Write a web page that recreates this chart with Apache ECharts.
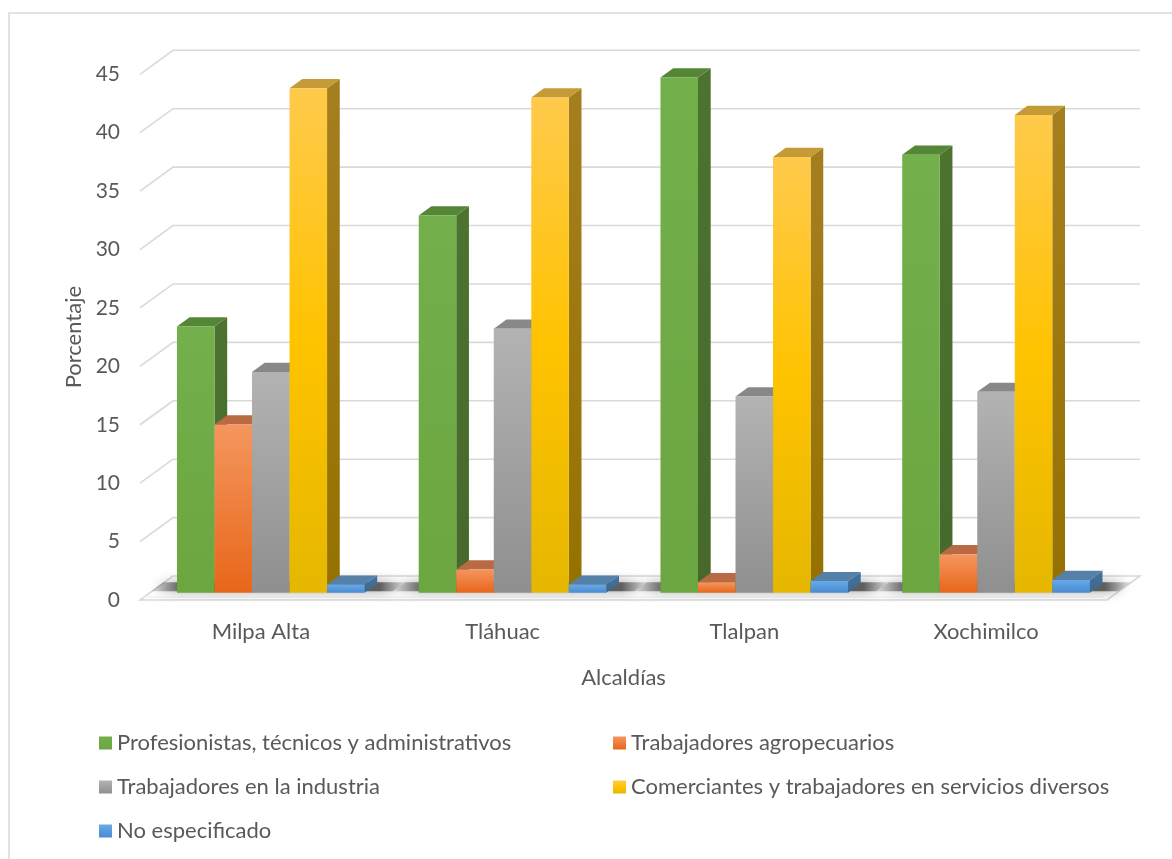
<!DOCTYPE html>
<html>
<head>
<meta charset="utf-8">
<script src="https://cdn.jsdelivr.net/npm/echarts@6/dist/echarts.min.js"></script>
<style>
  html, body { margin: 0; padding: 0; background: #ffffff; }
  #chart { width: 1172px; height: 859px; }
</style>
</head>
<body>
<div id="chart"></div>
<script>
// Ocupación de la población por alcaldía (%)
const categories = ['Milpa Alta', 'Tláhuac', 'Tlalpan', 'Xochimilco'];
const yTicks = [0, 5, 10, 15, 20, 25, 30, 35, 40, 45];

const seriesNames = [
  'Profesionistas, técnicos y administrativos',
  'Trabajadores agropecuarios',
  'Trabajadores en la industria',
  'Comerciantes y trabajadores en servicios diversos',
  'No especificado'
];
const profesionistas = [22.8, 32.3, 44.1, 37.5];
const agropecuarios  = [14.4, 2.0, 0.9, 3.3];
const industria      = [18.9, 22.6, 16.8, 17.2];
const comerciantes   = [43.2, 42.4, 37.3, 40.9];
const noEspecificado = [0.7, 0.7, 1.0, 1.1];
const seriesValues = [profesionistas, agropecuarios, industria, comerciantes, noEspecificado];

// face colours: front gradient stops, side gradient, top
const faces = [
  { front: [[0, '#73AF4A'], [1, '#6BA641']], side: ['#4C7330', '#46692B'], top: '#558636' },
  { front: [[0, '#F4965E'], [1, '#E8661A']], side: ['#B45A22', '#A84F17'], top: '#B96A42' },
  { front: [[0, '#B3B3B3'], [1, '#8F8F8F']], side: ['#727272', '#646464'], top: '#888888' },
  { front: [[0, '#FFCA4C'], [0.5, '#FFC300'], [1, '#E5B700']], side: ['#A57F1F', '#957100'], top: '#C49B36' },
  { front: [[0, '#66AAE8'], [1, '#4A8BD0']], side: ['#44739E', '#3C6890'], top: '#5580A8' }
];

// oblique projection: full floor depth in screen pixels
const DEPTH = [33, -24];
const BAR_D0 = 0.30;   // bar front plane (fraction of floor depth)
const BAR_D1 = 0.685;  // bar back plane
const GROUP_FILL = 0.776; // share of a category slot covered by the five bars
const GRID_COLOR = '#D9D9D9';
const TEXT_COLOR = '#595959';
const FONT = 'Lato';

function grad(stops) {
  return { type: 'linear', x: 0, y: 0, x2: 0, y2: 1,
    colorStops: stops.map(s => ({ offset: s[0], color: s[1] })) };
}

function plotEdges(api, v) {
  const catW = api.size([1, 0])[0];
  const left = api.coord([0, v])[0] - catW / 2;
  const right = api.coord([categories.length - 1, v])[0] + catW / 2;
  const y = api.coord([0, v])[1];
  return { left, right, y, catW };
}

// back wall / side wall gridlines
function renderGridLine(params, api) {
  const v = api.value(1);
  const e = plotEdges(api, v);
  const children = [];
  if (v === 0) {
    // floor slab
    children.push({
      type: 'polygon',
      shape: { points: [[e.left, e.y], [e.right, e.y], [e.right + DEPTH[0], e.y + DEPTH[1]], [e.left + DEPTH[0], e.y + DEPTH[1]]] },
      style: { fill: '#FFFFFF', stroke: GRID_COLOR, lineWidth: 1.6 }
    });
    children.push({
      type: 'polyline',
      shape: { points: [[e.left + 3, e.y - 3], [e.right - 3, e.y - 3]] },
      style: { fill: null, stroke: '#EBEBEB', lineWidth: 1.2 }
    });
  } else {
    children.push({
      type: 'polyline',
      shape: { points: [[e.left, e.y], [e.left + DEPTH[0], e.y + DEPTH[1]], [e.right + DEPTH[0], e.y + DEPTH[1]]] },
      style: { fill: null, stroke: GRID_COLOR, lineWidth: 1.6 }
    });
  }
  return { type: 'group', children };
}

// soft shadow cast on the floor by each group of bars
function renderShadow(params, api) {
  const i = api.value(0);
  const base = api.coord([i, 0]);
  const catW = api.size([1, 0])[0];
  const groupW = catW * GROUP_FILL;
  const x0 = base[0] - groupW / 2, x1 = base[0] + groupW / 2;
  const da = 0.36, db = 0.74;
  const pts = [
    [x0 - 28 + DEPTH[0] * da, base[1] + DEPTH[1] * da],
    [x1 + 26 + DEPTH[0] * da, base[1] + DEPTH[1] * da],
    [x1 + 26 + DEPTH[0] * db, base[1] + DEPTH[1] * db],
    [x0 - 28 + DEPTH[0] * db, base[1] + DEPTH[1] * db]
  ];
  return {
    type: 'polygon',
    shape: { points: pts },
    style: {
      fill: { type: 'linear', x: 0, y: 0, x2: 1, y2: 0, colorStops: [
        { offset: 0, color: 'rgba(90,90,90,0.15)' },
        { offset: 0.12, color: 'rgba(60,60,60,0.75)' },
        { offset: 0.9, color: 'rgba(60,60,60,0.75)' },
        { offset: 1, color: 'rgba(90,90,90,0.15)' }
      ] },
      shadowBlur: 12, shadowColor: 'rgba(0,0,0,0.55)'
    }
  };
}

function makeBarRenderer(s) {
  return function (params, api) {
    const i = api.value(0);
    const v = api.value(1);
    const base = api.coord([i, 0]);
    const top = api.coord([i, v]);
    const catW = api.size([1, 0])[0];
    const barW = catW * GROUP_FILL / seriesNames.length;
    const fx = base[0] - barW * seriesNames.length / 2 + s * barW + DEPTH[0] * BAR_D0;
    const fy0 = base[1] + DEPTH[1] * BAR_D0;
    const fy1 = top[1] + DEPTH[1] * BAR_D0;
    const bx = DEPTH[0] * (BAR_D1 - BAR_D0);
    const by = DEPTH[1] * (BAR_D1 - BAR_D0);
    const f = faces[s];
    return {
      type: 'group',
      children: [
        { type: 'polygon',
          shape: { points: [[fx + barW, fy1], [fx + barW + bx, fy1 + by], [fx + barW + bx, fy0 + by], [fx + barW, fy0]] },
          style: { fill: grad([[0, f.side[0]], [1, f.side[1]]]) } },
        { type: 'polygon',
          shape: { points: [[fx, fy1], [fx + bx, fy1 + by], [fx + barW + bx, fy1 + by], [fx + barW, fy1]] },
          style: { fill: f.top } },
        { type: 'rect',
          shape: { x: fx, y: fy1, width: barW, height: fy0 - fy1 },
          style: { fill: grad(f.front) } }
      ]
    };
  };
}

const series = [
  { type: 'custom', name: '_grid', silent: true, z: 1,
    renderItem: renderGridLine, data: yTicks.map(v => [0, v]) },
  { type: 'custom', name: '_shadow', silent: true, z: 2,
    renderItem: renderShadow, data: categories.map((c, i) => [i, 0]) }
];
seriesNames.forEach((name, s) => {
  series.push({
    type: 'custom', name, z: 3,
    itemStyle: { color: grad(faces[s].front) },
    renderItem: makeBarRenderer(s),
    data: seriesValues[s].map((v, i) => [i, v])
  });
});

const legendText = { color: TEXT_COLOR, fontSize: 22, fontFamily: FONT, lineHeight: 22 };

const option = {
  animation: false,
  backgroundColor: '#FFFFFF',
  graphic: [{
    type: 'rect', silent: true, z: -10,
    shape: { x: 9, y: 13, width: 1200, height: 900 },
    style: { fill: 'none', stroke: GRID_COLOR, lineWidth: 1.5 }
  }],
  grid: { left: 140, right: 65, top: 74.3, bottom: 259 },
  xAxis: {
    type: 'category', data: categories,
    name: 'Alcaldías', nameLocation: 'middle', nameGap: 67,
    nameTextStyle: { color: TEXT_COLOR, fontSize: 22, fontFamily: FONT },
    axisLine: { show: false }, axisTick: { show: false },
    axisLabel: { color: TEXT_COLOR, fontSize: 22, fontFamily: FONT, margin: 21 },
    splitLine: { show: false }
  },
  yAxis: {
    type: 'value', min: yTicks[0], max: yTicks[yTicks.length - 1], interval: yTicks[1] - yTicks[0],
    name: 'Porcentaje', nameLocation: 'middle', nameGap: 54, nameRotate: 90,
    nameTextStyle: { color: TEXT_COLOR, fontSize: 22, fontFamily: FONT },
    axisLine: { show: false }, axisTick: { show: false },
    axisLabel: { color: TEXT_COLOR, fontSize: 21, fontFamily: FONT, margin: 20 },
    splitLine: { show: false }
  },
  legend: [
    { orient: 'vertical', left: 94, top: 727, itemWidth: 13, itemHeight: 13, itemGap: 22,
      icon: 'rect', textStyle: legendText, selectedMode: false,
      data: [seriesNames[0], seriesNames[2], seriesNames[4]] },
    { orient: 'vertical', left: 608, top: 727, itemWidth: 13, itemHeight: 13, itemGap: 22,
      icon: 'rect', textStyle: legendText, selectedMode: false,
      data: [seriesNames[1], seriesNames[3]] }
  ],
  series
};

const chart = echarts.init(document.getElementById('chart'), null, { renderer: 'canvas' });
chart.setOption(option);
</script>
</body>
</html>
